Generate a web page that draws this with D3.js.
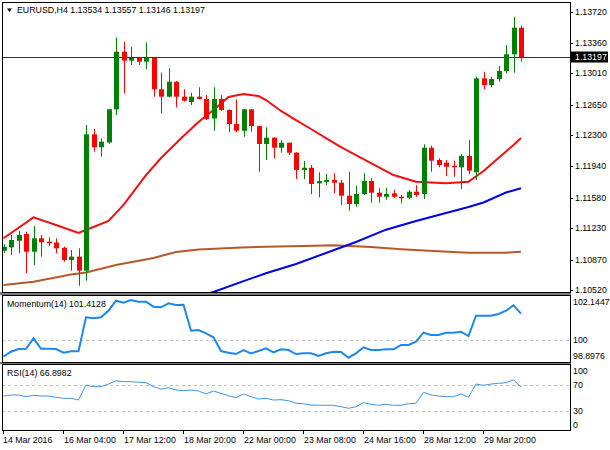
<!DOCTYPE html>
<html>
<head>
<meta charset="utf-8">
<script src="https://cdn.jsdelivr.net/npm/d3@7"></script>
<style>
  body { margin: 0; background: #fff; }
  svg { display: block; }
  text { font-family: "Liberation Sans", Arial, sans-serif; font-size: 8.8px; fill: #000; }
</style>
</head>
<body>
<script>
// EURUSD H4 candles
var openP  = [1.10972,1.11010,1.11086,1.11163,1.10960,1.11114,1.11075,1.11065,1.11005,1.10865,
              1.10903,1.10742,1.12309,1.12160,1.12215,1.12596,1.13258,1.13155,1.13186,1.13143,
              1.13189,1.12826,1.12741,1.12913,1.12741,1.12680,1.12741,1.12715,1.12490,1.12715,
              1.12588,1.12427,1.12350,1.12596,1.12404,1.12198,1.12270,1.12155,1.12212,1.12098,
              1.11899,1.11925,1.11746,1.11762,1.11784,1.11753,1.11604,1.11508,1.11623,1.11772,
              1.11638,1.11592,1.11630,1.11592,1.11580,1.11649,1.11623,1.12155,1.12014,1.11983,
              1.11948,1.11929,1.12060,1.11872,1.12952,1.12875,1.12944,1.13036,1.13228,1.13534];
var highP  = [1.11049,1.11152,1.11201,1.11190,1.11255,1.11152,1.11126,1.11114,1.11018,1.10980,
              1.10999,1.12416,1.12370,1.12263,1.12600,1.13421,1.13373,1.13315,1.13200,1.13366,
              1.13194,1.13017,1.13067,1.12920,1.12826,1.12787,1.12849,1.12760,1.12849,1.12760,
              1.12596,1.12711,1.12600,1.12600,1.12404,1.12389,1.12275,1.12244,1.12215,1.12102,
              1.12002,1.11956,1.11872,1.11853,1.11861,1.11784,1.11879,1.11718,1.11861,1.11803,
              1.11689,1.11695,1.11669,1.11612,1.11669,1.11726,1.12194,1.12178,1.12033,1.12014,
              1.12006,1.12083,1.12244,1.12971,1.13028,1.12971,1.13094,1.13335,1.13660,1.13557];
var lowP   = [1.10945,1.10922,1.10942,1.10712,1.10807,1.10903,1.11026,1.10942,1.10845,1.10742,
              1.10569,1.10627,1.12109,1.12052,1.12200,1.12530,1.12780,1.13105,1.13105,1.13056,
              1.12741,1.12550,1.12734,1.12619,1.12684,1.12646,1.12711,1.12473,1.12350,1.12580,
              1.12332,1.12332,1.12281,1.12339,1.11879,1.12014,1.12033,1.12098,1.12071,1.11795,
              1.11795,1.11623,1.11585,1.11726,1.11631,1.11497,1.11431,1.11477,1.11612,1.11523,
              1.11523,1.11554,1.11577,1.11516,1.11566,1.11592,1.11566,1.11879,1.11930,1.11833,
              1.11822,1.11680,1.11853,1.11784,1.12826,1.12849,1.12913,1.13010,1.13017,1.13146];
var closeP = [1.11017,1.11095,1.11152,1.10960,1.11114,1.11068,1.11063,1.10999,1.10865,1.10903,
              1.10742,1.12309,1.12160,1.12224,1.12596,1.13258,1.13155,1.13186,1.13143,1.13189,
              1.12826,1.12741,1.12913,1.12741,1.12695,1.12741,1.12715,1.12485,1.12715,1.12588,
              1.12427,1.12350,1.12596,1.12404,1.12198,1.12270,1.12155,1.12212,1.12098,1.11899,
              1.11925,1.11738,1.11772,1.11784,1.11753,1.11604,1.11508,1.11623,1.11772,1.11638,
              1.11592,1.11623,1.11592,1.11574,1.11649,1.11612,1.12155,1.12006,1.11956,1.11937,
              1.11937,1.12060,1.11891,1.12952,1.12875,1.12944,1.13036,1.13228,1.13534,1.13197];

// moving averages (bar index, value)
var maRedIdx = [0,4,7,10,11,14,16,19,21,24,26,28,30,32,34,35,37,39,41,43,45,48,50,52,55,59,62,64,66,68,69];
var maRedVal = [1.11114,1.11355,1.11267,1.11175,1.11209,1.11313,1.11497,1.11841,1.12037,1.12289,
                1.12450,1.12588,1.12738,1.12772,1.12749,1.12703,1.12577,1.12473,1.12370,1.12266,
                1.12163,1.12025,1.11933,1.11841,1.11764,1.11746,1.11764,1.11887,1.12037,1.12186,1.12266];
var maBlueIdx = [26,28,32,35,39,43,47,51,55,59,62,64,67,69];
var maBlueVal = [1.10451,1.10497,1.10622,1.10712,1.10819,1.10945,1.11072,1.11213,1.11313,1.11405,
                 1.11474,1.11525,1.11640,1.11689];
var maBrownIdx = [0,4,9,11,15,20,23,26,31,35,40,44,49,53,58,62,67,69];
var maBrownVal = [1.10577,1.10615,1.10698,1.10721,1.10807,1.10888,1.10957,1.10985,1.11006,1.11018,
                  1.11026,1.11034,1.11014,1.10988,1.10965,1.10949,1.10949,1.10960];

var momentum = [99.105,99.373,99.517,99.534,100.091,99.534,99.534,99.517,99.319,99.394,
                99.394,101.217,101.164,101.217,101.571,102.107,102.000,102.145,102.054,102.054,
                101.786,101.753,101.968,101.877,101.893,100.499,100.536,100.359,100.145,99.410,
                99.319,99.249,99.464,99.287,99.410,99.555,99.340,99.501,99.464,99.249,
                99.287,99.287,99.142,99.287,99.373,99.357,99.051,99.287,99.609,99.464,
                99.464,99.501,99.501,99.732,99.732,99.909,100.391,100.268,100.268,100.391,
                100.391,100.445,100.214,101.303,101.303,101.303,101.394,101.571,101.861,101.4128];
var rsi = [53.1,54.6,54.6,52.0,54.2,53.1,53.1,51.1,49.5,49.5,
           46.9,70.0,67.4,67.4,71.5,76.6,75.1,75.1,74.2,73.5,
           67.4,63.8,65.8,62.3,61.2,62.3,60.8,56.2,60.8,57.2,
           53.5,50.5,56.2,52.0,48.5,49.5,46.9,47.4,45.9,41.9,
           41.2,39.2,38.8,38.8,38.8,36.6,34.2,36.6,42.8,40.3,
           38.8,40.3,38.8,38.8,41.2,41.9,58.8,54.6,53.1,52.0,
           52.0,56.2,51.1,71.5,69.5,71.5,72.6,73.5,77.7,66.8982];

var priceTicks = [1.10520,1.10870,1.11230,1.11580,1.11940,1.12300,1.12650,1.13010,1.13360,1.13720];
var momLabels = [102.1447, 100, 98.8976];
var rsiLabels = [100, 70, 30, 0];
var rsiLevels = [70, 30];
var timeLabels = ["14 Mar 2016","16 Mar 04:00","17 Mar 12:00","18 Mar 20:00","22 Mar 00:00",
                  "23 Mar 08:00","24 Mar 16:00","28 Mar 12:00","29 Mar 20:00"];
var timeIdx = [0,8,16,24,32,40,48,56,64];
var lastPrice = 1.13197;

var W = 610, H = 450;
var left = 2, right = 570;
var main = {top: 2, bottom: 292};
var mom = {top: 295, bottom: 362};
var rs = {top: 364, bottom: 430};

var svg = d3.select('body').append('svg')
  .attr('width', W)
  .attr('height', H);

var x = d3.scaleLinear().domain([0, 69]).range([3.5, 521]);
var y = d3.scaleLinear().domain([1.1052, 1.1372]).range([290, 11.5]);
var yMom = d3.scaleLinear().domain([98.8976, 102.1447]).range([360.6, 300]);
var yRsi = d3.scaleLinear().domain([0, 100]).range([430.5, 365.5]);

var defs = svg.append('defs');
function clip(id, p) {
  defs.append('clipPath').attr('id', id).append('rect')
    .attr('x', left + 1).attr('y', p.top + 1)
    .attr('width', right - left - 1).attr('height', p.bottom - p.top - 1);
}
clip('cMain', main); clip('cMom', mom); clip('cRsi', rs);

// panel splitters
svg.append('rect').attr('x', 0).attr('y', main.bottom).attr('width', right + 1).attr('height', 3).attr('fill', '#7a7a7a');
svg.append('rect').attr('x', 0).attr('y', mom.bottom).attr('width', right + 1).attr('height', 2).attr('fill', '#7a7a7a');

// ---- main panel
var gm = svg.append('g').attr('clip-path', 'url(#cMain)');

// current price line
gm.append('line')
  .attr('x1', left).attr('x2', right)
  .attr('y1', Math.round(y(lastPrice)) + 0.5).attr('y2', Math.round(y(lastPrice)) + 0.5)
  .attr('stroke', '#333').attr('stroke-width', 1);

var lineIdx = d3.line().x(function(d) { return x(d[0]); }).y(function(d) { return y(d[1]); });
function maLine(idx, vals, color) {
  gm.append('path')
    .datum(d3.zip(idx, vals))
    .attr('d', lineIdx)
    .attr('fill', 'none').attr('stroke', color).attr('stroke-width', 2);
}
maLine(maBrownIdx, maBrownVal, '#b5592a');
maLine(maBlueIdx, maBlueVal, '#0000e6');
maLine(maRedIdx, maRedVal, '#f01010');

var bars = d3.range(openP.length).map(function(i) {
  return {i: i, o: openP[i], h: highP[i], l: lowP[i], c: closeP[i]};
});
var candle = gm.selectAll('g.candle').data(bars).enter().append('g')
  .attr('class', 'candle');
candle.append('line')
  .attr('x1', function(d) { return Math.round(x(d.i)) + 0.5; })
  .attr('x2', function(d) { return Math.round(x(d.i)) + 0.5; })
  .attr('y1', function(d) { return y(d.h); })
  .attr('y2', function(d) { return y(d.l); })
  .attr('stroke', function(d) { return d.c >= d.o ? '#008000' : '#ff0000'; })
  .attr('stroke-width', 1);
candle.append('rect')
  .attr('x', function(d) { return Math.round(x(d.i)) - 2; })
  .attr('width', 5)
  .attr('y', function(d) { return y(Math.max(d.o, d.c)); })
  .attr('height', function(d) { return Math.max(1.5, Math.abs(y(d.o) - y(d.c))); })
  .attr('fill', function(d) { return d.c >= d.o ? '#008000' : '#ff0000'; });

// price axis
var ga = svg.append('g');
ga.selectAll('line.pt').data(priceTicks).enter().append('line')
  .attr('x1', right).attr('x2', right + 3)
  .attr('y1', function(d) { return Math.round(y(d)) + 0.5; })
  .attr('y2', function(d) { return Math.round(y(d)) + 0.5; })
  .attr('stroke', '#000');
ga.selectAll('text.pt').data(priceTicks).enter().append('text')
  .attr('x', 575).attr('y', function(d) { return y(d); })
  .attr('dy', '0.35em')
  .text(function(d) { return d.toFixed(5); });

svg.append('rect')
  .attr('x', 571).attr('y', y(lastPrice) - 5.5)
  .attr('width', 37).attr('height', 11).attr('fill', '#000');
svg.append('text')
  .attr('x', 575).attr('y', y(lastPrice)).attr('dy', '0.35em')
  .style('fill', '#fff')
  .text(lastPrice.toFixed(5));

// title
svg.append('path').attr('d', 'M7,8.5 L12,8.5 L9.5,12 Z').attr('fill', '#000');
svg.append('text').attr('x', 17).attr('y', 13)
  .text('EURUSD,H4  1.13534 1.13557 1.13146 1.13197');

// ---- momentum panel
var gmo = svg.append('g').attr('clip-path', 'url(#cMom)');
gmo.append('line')
  .attr('x1', left).attr('x2', right)
  .attr('y1', Math.round(yMom(100)) + 0.5).attr('y2', Math.round(yMom(100)) + 0.5)
  .attr('stroke', '#c0c0c0').attr('stroke-dasharray', '3,3');
gmo.append('path')
  .datum(momentum)
  .attr('d', d3.line().x(function(d, i) { return x(i); }).y(function(d) { return yMom(d); }))
  .attr('fill', 'none').attr('stroke', '#1e88ea').attr('stroke-width', 2);
svg.append('text').attr('x', 7).attr('y', 307).text('Momentum(14) 101.4128');
svg.selectAll('text.ml').data(momLabels).enter().append('text')
  .attr('x', 573)
  .attr('y', function(d) { return Math.max(mom.top + 7, Math.min(mom.bottom - 6, yMom(d))); })
  .attr('dy', '0.35em')
  .text(function(d) { return d === 100 ? '100' : d.toFixed(4); });

// ---- RSI panel
var gr = svg.append('g').attr('clip-path', 'url(#cRsi)');
gr.selectAll('line.lv').data(rsiLevels).enter().append('line')
  .attr('x1', left).attr('x2', right)
  .attr('y1', function(d) { return Math.round(yRsi(d)) + 0.5; })
  .attr('y2', function(d) { return Math.round(yRsi(d)) + 0.5; })
  .attr('stroke', '#c0c0c0').attr('stroke-dasharray', '3,3');
gr.append('path')
  .datum(rsi)
  .attr('d', d3.line().x(function(d, i) { return x(i); }).y(function(d) { return yRsi(d); }))
  .attr('fill', 'none').attr('stroke', '#3c96e8').attr('stroke-width', 1);
svg.append('text').attr('x', 7).attr('y', 376).text('RSI(14) 66.8982');
svg.selectAll('text.rl').data(rsiLabels).enter().append('text')
  .attr('x', 573)
  .attr('y', function(d) { return Math.max(rs.top + 7, Math.min(rs.bottom - 5, yRsi(d))); })
  .attr('dy', '0.35em')
  .text(function(d) { return d; });

// panel frames
[main, mom, rs].forEach(function(p) {
  svg.append('rect')
    .attr('x', left + 0.5).attr('y', p.top + 0.5)
    .attr('width', right - left).attr('height', p.bottom - p.top)
    .attr('fill', 'none').attr('stroke', '#000').attr('stroke-width', 1);
});

// time axis
var gt = svg.append('g');
gt.selectAll('line').data(timeIdx).enter().append('line')
  .attr('x1', function(d) { return Math.round(x(d)) - 0.5; })
  .attr('x2', function(d) { return Math.round(x(d)) - 0.5; })
  .attr('y1', rs.bottom).attr('y2', rs.bottom + 4)
  .attr('stroke', '#000');
gt.selectAll('text').data(timeLabels).enter().append('text')
  .attr('x', function(d, i) { return i === 0 ? 3 : Math.round(x(timeIdx[i])); })
  .attr('y', 443)
  .text(function(d) { return d; });
</script>
</body>
</html>
